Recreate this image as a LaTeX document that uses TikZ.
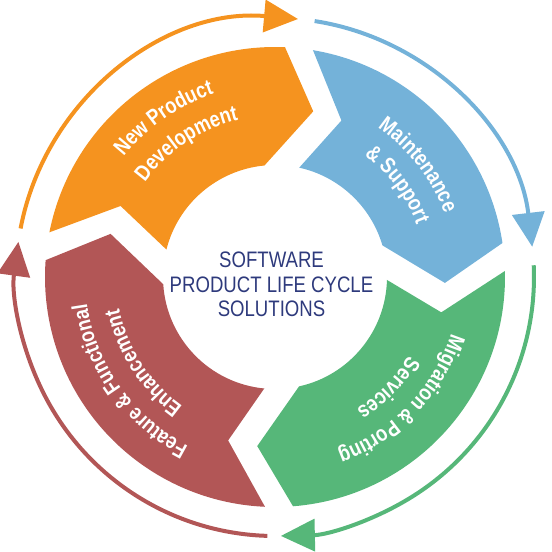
\documentclass[tikz,border=0pt]{standalone}
\usepackage{fontspec}
\usepackage{xcolor}
\usetikzlibrary{arrows.meta,decorations.text}
\newfontfamily\condfont[FakeStretch=0.83]{Liberation Sans}
\definecolor{segorange}{HTML}{F5931F}
\definecolor{segblue}{HTML}{74B2D9}
\definecolor{seggreen}{HTML}{56B779}
\definecolor{segred}{HTML}{B25656}
\definecolor{navy}{HTML}{2E3A7C}

\begin{document}
\begin{tikzpicture}[x=0.5pt, y=0.5pt,
  ring/.style={draw=#1, line width=2pt, -{Triangle[length=17pt, width=16pt]}},
  lbl/.style={decorate, decoration={text along path, text align=center, text color=white,
    text={|\condfont\bfseries\fontsize{11}{13}\selectfont|#1}}}]
  \useasboundingbox (-275,-275) rectangle (277,277);
  \foreach \p/\t/\c in {165.3/77/segorange, 77/-2/segblue, -2/-96/seggreen, -96/-194.7/segred}
    \fill[\c] ({\p+3.5}:230) arc[start angle=\p+3.5, end angle=\t+10.5, radius=230] -- (\t:170)
      -- ({\t+18.4}:112) arc[start angle=\t+18.4, end angle=\p+0.5, radius=112] -- ({\p-10}:170) -- cycle;
  \foreach \s/\e/\c in {169.2/84.9/segorange, 81.2/6.7/segblue, 2.6/-88.7/seggreen, -91.7/-187.8/segred}
    \draw[ring=\c] (\s:259) arc[start angle=\s, end angle=\e, radius=259];
  \path[lbl={New Product}] (165:193) arc[start angle=165, end angle=85, radius=193];
  \path[lbl={Development}] (163.5:161) arc[start angle=163.5, end angle=83.5, radius=161];
  \path[lbl={Maintenance}] (78:181) arc[start angle=78, end angle=-2, radius=181];
  \path[lbl={{\&} Support}] (77:151) arc[start angle=77, end angle=-3, radius=151];
  \path[lbl={Migration {\&} Porting}] (-4:185) arc[start angle=-4, end angle=-84, radius=185];
  \path[lbl={Services}] (-4.5:155) arc[start angle=-4.5, end angle=-84.5, radius=155];
  \path[lbl={Feature {\&} Functional}] (255.5:190) arc[start angle=255.5, end angle=175.5, radius=190];
  \path[lbl={Enhancement}] (253:159) arc[start angle=253, end angle=173, radius=159];
  \node[font=\condfont\fontsize{11.2}{12.25}\selectfont, text=navy, align=center] (title) at (-3.5,-7.5)
    {SOFTWARE\\PRODUCT LIFE CYCLE\\SOLUTIONS};
\end{tikzpicture}
\end{document}
